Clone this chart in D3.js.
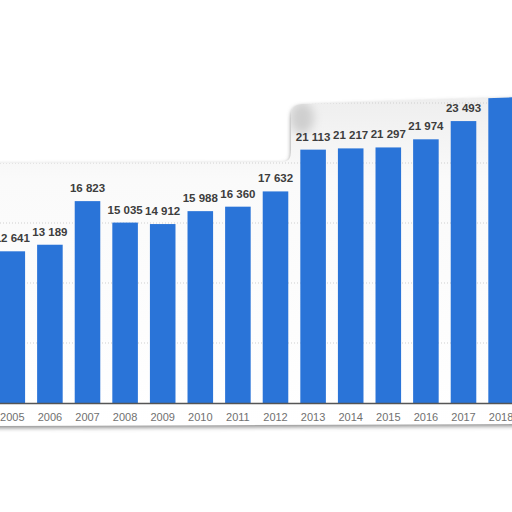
<!DOCTYPE html>
<html>
<head>
<meta charset="utf-8">
<script src="https://cdn.jsdelivr.net/npm/d3@7"></script>
<style>
  html, body { margin: 0; padding: 0; background: #fff; }
  svg { display: block; }
</style>
</head>
<body>
<div id="chart"></div>
<script>
const years = ['2005', '2006', '2007', '2008', '2009', '2010', '2011', '2012', '2013', '2014', '2015', '2016', '2017', '2018'];
const values = [12641, 13189, 16823, 15035, 14912, 15988, 16360, 17632, 21113, 21217, 21297, 21974, 23493, 25900];
const gridTicks = [5000, 10000, 15000, 20000, 25000];

const width = 512, height = 512;
const fmt = v => d3.format(',')(v).replace(/,/g, ' ');

const svg = d3.select('#chart').append('svg')
  .attr('width', width)
  .attr('height', height);

const defs = svg.append('defs');

// torn paper outline
const paperPath = 'M-10,163 L280,162 C289,162 291,159 291,150 L291,118 C291,106 295,104 306,104 L522,97 L522,424 L-10,426 Z';

defs.append('clipPath').attr('id', 'paper-clip')
  .append('path').attr('d', paperPath);

const shadow = defs.append('filter').attr('id', 'paper-shadow')
  .attr('x', '-10%').attr('y', '-10%').attr('width', '120%').attr('height', '120%');
shadow.append('feDropShadow')
  .attr('dx', 0).attr('dy', 2)
  .attr('stdDeviation', 2.2)
  .attr('flood-color', '#7a7a7a')
  .attr('flood-opacity', 0.9);

const blur = defs.append('filter').attr('id', 'soft')
  .attr('x', '-50%').attr('y', '-50%').attr('width', '200%').attr('height', '200%');
blur.append('feGaussianBlur').attr('stdDeviation', 5);

const grad = defs.append('linearGradient').attr('id', 'paper-fill')
  .attr('x1', 0).attr('y1', 0).attr('x2', 0).attr('y2', 1);
grad.append('stop').attr('offset', '0%').attr('stop-color', '#eeeeee');
grad.append('stop').attr('offset', '25%').attr('stop-color', '#fafafa');
grad.append('stop').attr('offset', '100%').attr('stop-color', '#ffffff');

svg.append('path')
  .attr('d', paperPath)
  .attr('fill', 'url(#paper-fill)')
  .attr('filter', 'url(#paper-shadow)');

const xScale = d3.scaleBand()
  .domain(years)
  .range([-6.5, 519.9])
  .paddingInner(0.32)
  .paddingOuter(0.16);

const yScale = d3.scaleLinear()
  .domain([0, 25000])
  .range([403, 103]);

const g = svg.append('g').attr('clip-path', 'url(#paper-clip)');

// curl shadow by the step in the paper edge
g.append('ellipse')
  .attr('cx', 302).attr('cy', 118)
  .attr('rx', 12).attr('ry', 16)
  .attr('fill', '#cfcfcf')
  .attr('filter', 'url(#soft)');

g.selectAll('.grid')
  .data(gridTicks)
  .enter()
  .append('line')
    .attr('class', 'grid')
    .attr('x1', 0).attr('x2', width)
    .attr('y1', d => yScale(d)).attr('y2', d => yScale(d))
    .attr('stroke', '#cfcfcf')
    .attr('stroke-width', 1)
    .attr('stroke-dasharray', '1,2');

const bars = years.map((y, i) => ({year: y, value: values[i]}));

g.selectAll('.bar')
  .data(bars)
  .enter()
  .append('rect')
    .attr('class', 'bar')
    .attr('x', d => xScale(d.year))
    .attr('y', d => yScale(d.value))
    .attr('width', xScale.bandwidth())
    .attr('height', d => yScale(0) - yScale(d.value))
    .attr('fill', '#2a74d8');

// the last bar runs off the torn top, so its label is not shown
g.selectAll('.val')
  .data(bars.filter(d => yScale(d.value) - 20 > 97))
  .enter()
  .append('text')
    .attr('class', 'val')
    .attr('x', d => xScale(d.year) + xScale.bandwidth() / 2)
    .attr('y', d => yScale(d.value) - 9)
    .attr('text-anchor', 'middle')
    .attr('font-family', '"Liberation Sans", Arial, sans-serif')
    .attr('font-weight', 'bold')
    .attr('font-size', '11.5px')
    .attr('fill', '#3d3d3d')
    .text(d => fmt(d.value));

const axis = g.append('g')
  .attr('transform', `translate(0, ${yScale(0)})`)
  .call(d3.axisBottom(xScale).tickSize(0).tickPadding(10));

axis.select('.domain')
  .attr('d', `M0,0.5H${width}`)
  .attr('stroke', '#555')
  .attr('stroke-width', 1.5);

axis.selectAll('text')
  .attr('font-family', '"Liberation Sans", Arial, sans-serif')
  .attr('font-size', '11px')
  .attr('fill', '#707070');
</script>
</body>
</html>
